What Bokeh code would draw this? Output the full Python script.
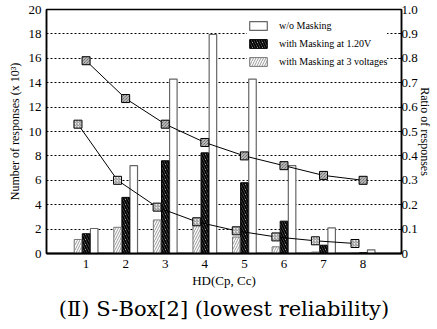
from bokeh.plotting import figure
from bokeh.models import (ColumnDataSource, Range1d, LinearAxis, FixedTicker,
                          Legend, LegendItem, Title)
from bokeh.transform import dodge
from bokeh.embed import file_html
from bokeh.resources import INLINE

# ---- data ----
hd = [1, 2, 3, 4, 5, 6, 7, 8]
wo_masking = [2.05, 7.2, 14.3, 17.95, 14.3, 7.2, 2.1, 0.3]          # x10^3
mask_120v = [1.62, 4.6, 7.6, 8.25, 5.8, 2.65, 0.68, 0.06]            # x10^3
mask_3v = [1.15, 2.15, 2.75, 2.3, 1.35, 0.55, 0.12, 0.03]            # x10^3
ratio_120v = [0.79, 0.635, 0.53, 0.455, 0.40, 0.36, 0.32, 0.30]
ratio_3v = [0.53, 0.30, 0.19, 0.13, 0.093, 0.068, 0.052, 0.041]
left_ticks = [0, 2, 4, 6, 8, 10, 12, 14, 16, 18, 20]
right_ticks = [0, 0.1, 0.2, 0.3, 0.4, 0.5, 0.6, 0.7, 0.8, 0.9, 1.0]
right_labels = {0: "0", 0.1: "0.1", 0.2: "0.2", 0.3: "0.3", 0.4: "0.4", 0.5: "0.5",
                0.6: "0.6", 0.7: "0.7", 0.8: "0.8", 0.9: "0.9", 1.0: "1.0"}

src = ColumnDataSource(dict(hd=hd, wo=wo_masking, m120=mask_120v, m3=mask_3v,
                            r120=ratio_120v, r3=ratio_3v))

SERIF = "Liberation Serif"

p = figure(width=437, height=329, output_backend="svg", toolbar_location=None,
           x_range=Range1d(0, 8.97), y_range=Range1d(0, 20),
           min_border_left=46, min_border_right=36, min_border_top=9,
           min_border_bottom=76, background_fill_color="white",
           border_fill_color="white")
p.extra_y_ranges = {"ratio": Range1d(0, 1)}
p.outline_line_color = "black"
p.outline_line_width = 1.5
p.xgrid.visible = False
p.ygrid.ticker = FixedTicker(ticks=left_ticks)
p.ygrid.grid_line_color = "black"
p.ygrid.grid_line_dash = "2 2"
p.ygrid.grid_line_width = 1

BW = 0.19
r_wo = p.vbar(x=dodge("hd", 0.205, range=p.x_range), top="wo", width=BW, source=src,
              fill_color="white", line_color="#666666", line_width=1.2)
r_120 = p.vbar(x=dodge("hd", 0.0, range=p.x_range), top="m120", width=BW, source=src,
               fill_color="#ffffff", hatch_pattern="left_diagonal_line",
               hatch_color="black", hatch_scale=5, hatch_weight=2,
               line_color="black", line_width=1)
r_3 = p.vbar(x=dodge("hd", -0.205, range=p.x_range), top="m3", width=BW, source=src,
             fill_color="white", hatch_pattern="right_diagonal_line",
             hatch_color="#999999", hatch_scale=5, hatch_weight=1,
             line_color="#777777", line_width=1)

p.line(x=dodge("hd", 0.0, range=p.x_range), y="r120", source=src,
       y_range_name="ratio", line_color="black", line_width=1)
p.line(x=dodge("hd", -0.205, range=p.x_range), y="r3", source=src,
       y_range_name="ratio", line_color="black", line_width=1)
p.scatter(x=dodge("hd", 0.0, range=p.x_range), y="r120", source=src,
          y_range_name="ratio", marker="square", size=8,
          fill_color="#444444", hatch_pattern="left_diagonal_line",
          hatch_color="#dddddd", hatch_scale=3, hatch_weight=1,
          line_color="black", line_width=1)
p.scatter(x=dodge("hd", -0.205, range=p.x_range), y="r3", source=src,
          y_range_name="ratio", marker="square", size=8,
          fill_color="#f0f0f0", hatch_pattern="right_diagonal_line",
          hatch_color="#888888", hatch_scale=3, hatch_weight=1,
          line_color="black", line_width=1)

# axes
xa = p.xaxis[0]
xa.ticker = FixedTicker(ticks=hd)
xa.axis_label = "HD(Cp, Cc)"
xa.axis_line_width = 2
xa.axis_line_color = "black"
xa.major_tick_out = 0
xa.major_tick_in = 0
xa.minor_tick_line_color = None
xa.major_label_standoff = 6
xa.axis_label_standoff = 2
xa.major_label_text_font = SERIF
xa.major_label_text_font_size = "13px"
xa.major_label_text_color = "black"
xa.axis_label_text_font = SERIF
xa.axis_label_text_font_size = "13px"
xa.axis_label_text_font_style = "normal"
xa.axis_label_text_color = "black"

ya = p.yaxis[0]
ya.ticker = FixedTicker(ticks=left_ticks)
ya.axis_label = "Number of responses (x 10³)"
ya.axis_line_width = 1.5
ya.axis_line_color = "black"
ya.major_tick_out = 0
ya.major_tick_in = 0
ya.minor_tick_line_color = None
ya.major_label_standoff = 5
ya.axis_label_standoff = 4
ya.major_label_text_font = SERIF
ya.major_label_text_font_size = "13px"
ya.major_label_text_color = "black"
ya.axis_label_text_font = SERIF
ya.axis_label_text_font_size = "12px"
ya.axis_label_text_font_style = "normal"
ya.axis_label_text_color = "black"

ra = LinearAxis(y_range_name="ratio", ticker=FixedTicker(ticks=right_ticks),
                major_label_overrides=right_labels,
                axis_label="Ratio of responses")
ra.axis_line_width = 1.5
ra.axis_line_color = "black"
ra.major_tick_out = 0
ra.major_tick_in = 3
ra.minor_tick_line_color = None
ra.major_label_standoff = 0
ra.axis_label_standoff = -3
ra.major_label_text_font = SERIF
ra.major_label_text_font_size = "13px"
ra.major_label_text_color = "black"
ra.axis_label_text_font = SERIF
ra.axis_label_text_font_size = "12px"
ra.axis_label_text_font_style = "normal"
ra.axis_label_text_color = "black"
p.add_layout(ra, "right")

legend = Legend(items=[
    LegendItem(label="w/o Masking", renderers=[r_wo]),
    LegendItem(label="with Masking at 1.20V", renderers=[r_120]),
    LegendItem(label="with Masking at 3 voltages", renderers=[r_3]),
], location=(201, 186))
legend.glyph_width = 22
legend.glyph_height = 11
legend.label_standoff = 10
legend.spacing = 7
legend.padding = 3
legend.margin = 0
legend.label_text_font = SERIF
legend.label_text_font_size = "10px"
legend.label_text_color = "black"
legend.label_height = 11
legend.border_line_color = None
legend.background_fill_alpha = 1
p.add_layout(legend)

cap = Title(text="(Ⅱ) S-Box[2] (lowest reliability)", align="center",
            text_font="DejaVu Serif", text_font_size="21px",
            text_font_style="normal", text_color="black", standoff=9)
p.add_layout(cap, "below")

open("out.html", "w").write(file_html(p, INLINE))
